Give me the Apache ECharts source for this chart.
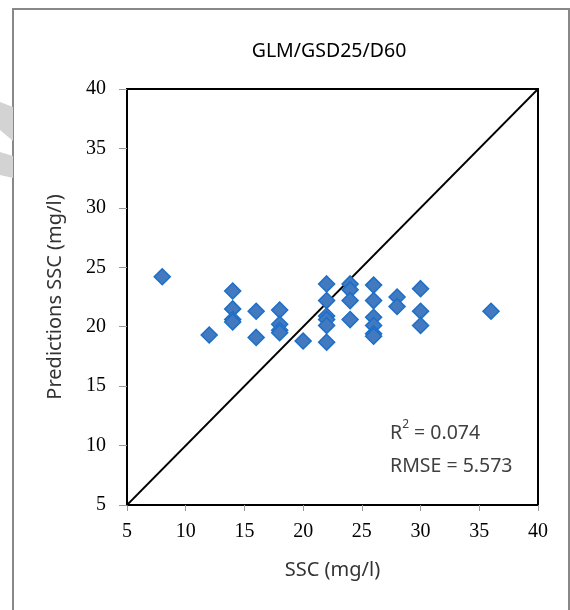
<!DOCTYPE html>
<html>
<head>
<meta charset="utf-8">
<script src="https://cdn.jsdelivr.net/npm/echarts@6/dist/echarts.min.js"></script>
<style>
html,body{margin:0;padding:0;background:#fff;}
#chart{width:570px;height:610px;}
</style>
</head>
<body>
<div id="chart"></div>
<script>
// Observed SSC (mg/l)
var observedSSC = [8, 12, 14, 14, 14, 14, 16, 16, 18, 18, 18, 18, 20,
  22, 22, 22, 22, 22, 22, 24, 24, 24, 24, 26, 26, 26, 26, 26, 26,
  28, 28, 30, 30, 30, 36];
// Predicted SSC (mg/l)
var predictedSSC = [24.2, 19.3, 23.0, 21.5, 20.6, 20.4, 21.3, 19.1, 21.4, 20.2, 19.7, 19.5, 18.8,
  23.6, 22.2, 20.9, 20.6, 20.1, 18.7, 23.6, 23.1, 22.2, 20.6, 23.5, 22.2, 20.8, 20.1, 19.4, 19.2,
  22.5, 21.7, 23.2, 21.3, 20.1, 21.3];
var oneToOneLine = [[5, 5], [40, 40]];
var axisMin = 5, axisMax = 40, axisStep = 5;
var chartTitle = 'GLM/GSD25/D60';
var xName = 'SSC (mg/l)';
var yName = 'Predictions SSC (mg/l)';
var r2Text = '0.074';
var rmseText = '5.573';

var points = observedSSC.map(function (x, i) { return [x, predictedSSC[i]]; });

var chart = echarts.init(document.getElementById('chart'), null, {renderer: 'canvas'});
var sans = '"Noto Sans", "Open Sans", sans-serif';
var serif = '"Liberation Serif", "DejaVu Serif", serif';

var axisCommon = {
  type: 'value', min: axisMin, max: axisMax, interval: axisStep,
  axisLine: {show: true, lineStyle: {color: '#000', width: 2}},
  axisTick: {show: true, length: 6, lineStyle: {color: '#999', width: 1}},
  splitLine: {show: false},
  nameLocation: 'middle',
  nameTextStyle: {fontFamily: sans, fontSize: 20, color: '#333'}
};

chart.setOption({
  animation: false,
  backgroundColor: '#fff',
  grid: {left: 127, top: 89, width: 411, height: 416, show: true, borderColor: '#000', borderWidth: 2, backgroundColor: 'transparent'},
  xAxis: Object.assign({}, axisCommon, {
    name: xName, nameGap: 55,
    axisLabel: {fontFamily: serif, fontSize: 20, color: '#000', margin: 17}
  }),
  yAxis: Object.assign({}, axisCommon, {
    name: yName, nameGap: 62, nameRotate: 90,
    axisTick: {show: true, length: 8, lineStyle: {color: '#999', width: 1}},
    axisLabel: {fontFamily: serif, fontSize: 20, color: '#000', margin: 21}
  }),
  graphic: [
    {type: 'rect', shape: {x: 13, y: 9, width: 556, height: 620}, style: {fill: 'none', stroke: '#888', lineWidth: 2}, z: 0},
    {type: 'polygon', shape: {points: [[0, 102], [13, 107], [13, 141], [0, 130]]}, style: {fill: '#d3d3d3'}, z: 0},
    {type: 'polygon', shape: {points: [[0, 152], [13, 156], [13, 178], [0, 175]]}, style: {fill: '#d3d3d3'}, z: 0},
    {type: 'text', x: 329, y: 51, style: {
      text: chartTitle, fontFamily: sans, fontSize: 19.5, fill: '#000', align: 'center', verticalAlign: 'middle'
    }, z: 10},
    {type: 'text', left: 390, top: 419, style: {
      text: '{n|R}{s|2}{n| = ' + r2Text + '}',
      rich: {
        n: {fontFamily: sans, fontSize: 19.5, fill: '#404040', verticalAlign: 'bottom', lineHeight: 24},
        s: {fontFamily: sans, fontSize: 12, fill: '#404040', verticalAlign: 'top', lineHeight: 24, padding: [0, 0, 10, 0]}
      }
    }, z: 10},
    {type: 'text', left: 390, top: 456, style: {
      text: 'RMSE = ' + rmseText, fontFamily: sans, fontSize: 19.5, fill: '#404040'
    }, z: 10}
  ],
  series: [
    {
      type: 'line', data: oneToOneLine, symbol: 'none', silent: true,
      lineStyle: {color: '#000', width: 1.8}, z: 1
    },
    {
      type: 'scatter', data: points, symbol: 'diamond', symbolSize: 16,
      itemStyle: {color: '#4279bf', borderColor: '#1c6fc9', borderWidth: 1.5, opacity: 1}, z: 3
    }
  ]
});
</script>
</body>
</html>
